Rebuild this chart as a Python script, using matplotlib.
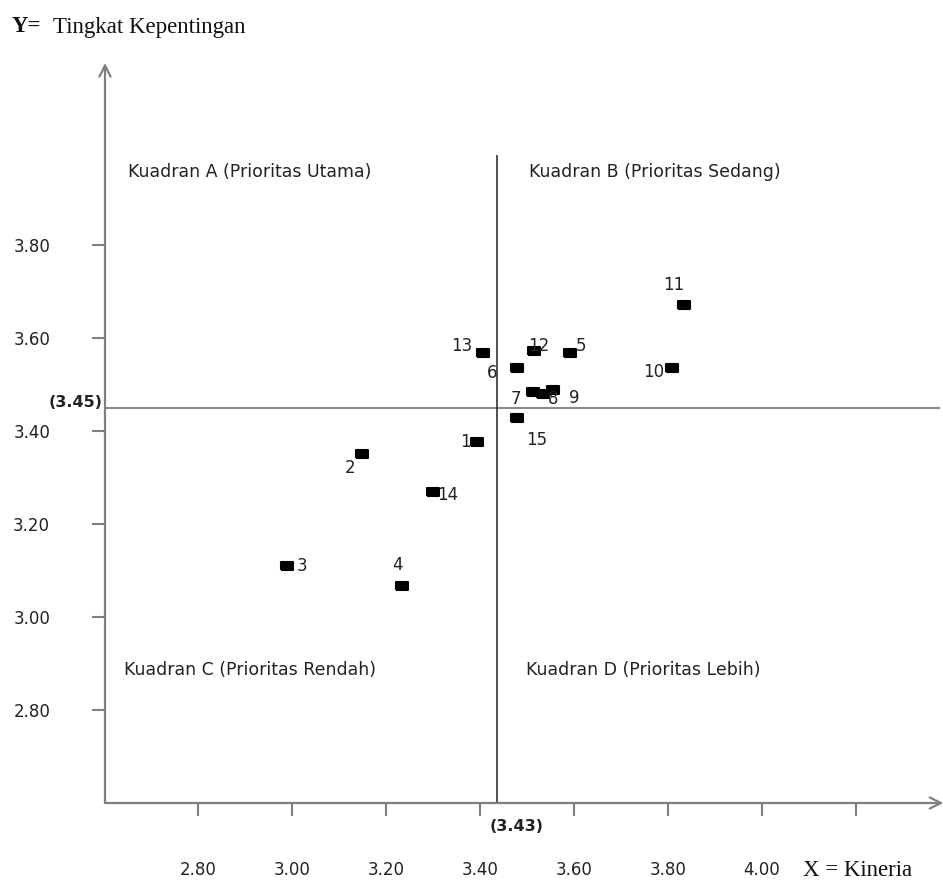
import matplotlib
matplotlib.use("Agg")
import matplotlib.pyplot as plt
import matplotlib.transforms as mtransforms

# ---- data ----
labels = ["1", "2", "3", "4", "5", "6", "7", "8", "9", "10", "11", "12", "13", "14", "15"]
kinerja = [3.394, 3.149, 2.989, 3.234, 3.591, 3.479, 3.513, 3.534, 3.555, 3.808, 3.834, 3.515, 3.406, 3.300, 3.479]
kepentingan = [3.376, 3.351, 3.110, 3.067, 3.568, 3.536, 3.484, 3.480, 3.488, 3.536, 3.671, 3.572, 3.568, 3.269, 3.428]
x_mean = 3.43
y_mean = 3.45
x_ticks = [2.80, 3.00, 3.20, 3.40, 3.60, 3.80, 4.00, 4.20]
x_ticklabels = ["2.80", "3.00", "3.20", "3.40", "3.60", "3.80", "4.00", ""]
y_ticks = [2.80, 3.00, 3.20, 3.40, 3.60, 3.80]
y_ticklabels = ["2.80", "3.00", "3.20", "3.40", "3.60", "3.80"]
quadrant_text = ["Kuadran A (Prioritas Utama)", "Kuadran B (Prioritas Sedang)",
                 "Kuadran C (Prioritas Rendah)", "Kuadran D (Prioritas Lebih)"]
# label offsets in pixels (dx, dy) relative to marker
label_offsets = [(-12, 0), (-12, -14), (15, 0), (-4, 21), (11, 7), (-25, -5), (-17, -7),
                 (10, -5), (21, -8), (-18, -4), (-10, 20), (5, 5), (-21, 7), (15, -3), (20, -22)]

W, H, DPI = 943, 880, 100
fig = plt.figure(figsize=(W / DPI, H / DPI), dpi=DPI)
ax = fig.add_axes([105 / W, 1 - 803 / H, (940 - 105) / W, (803 - 63) / H])
ax.set_xlim(2.602, 4.379)
ax.set_ylim(2.600, 4.191)

for s in ax.spines.values():
    s.set_visible(False)

axis_col = "#7f7f7f"
# axes with arrows
ax.annotate("", xy=(0, 1), xytext=(0, 0), xycoords="axes fraction",
            arrowprops=dict(arrowstyle="->,head_length=0.8,head_width=0.4", color=axis_col, lw=1.6,
                            shrinkA=0, shrinkB=0))
ax.annotate("", xy=(1.004, 0), xytext=(0, 0), xycoords="axes fraction",
            arrowprops=dict(arrowstyle="->,head_length=0.8,head_width=0.4", color=axis_col, lw=1.6,
                            shrinkA=0, shrinkB=0))

# ticks
ax.set_xticks(x_ticks)
ax.set_xticklabels(x_ticklabels)
ax.set_yticks(y_ticks)
ax.set_yticklabels(y_ticklabels)
ax.tick_params(axis="x", direction="out", length=9, width=1.5, color=axis_col, pad=33,
               labelsize=12, labelcolor="#222222")
ax.tick_params(axis="y", direction="out", length=9.5, width=1.5, color=axis_col, pad=30,
               labelsize=12, labelcolor="#222222")

# quadrant lines
ax.axhline(y_mean, color="#8a8a8a", lw=1.5, zorder=1)
ax.vlines(x_mean + 0.006, ymin=2.600, ymax=3.994, color="#222222", lw=1.1, zorder=1)

# points
marker = [(-1.75, -1), (1.75, -1), (1.75, 1), (-1.75, 1), (-1.75, -1)]
ax.plot(kinerja, kepentingan, linestyle="none", marker=marker, markersize=9,
        color="black", markeredgewidth=1.5, zorder=3)

for lab, xv, yv, (dx, dy) in zip(labels, kinerja, kepentingan, label_offsets):
    ax.annotate(lab, xy=(xv, yv), xytext=(dx, dy), textcoords="offset pixels",
                ha="center", va="center", fontsize=12, color="#222222", zorder=4)

# quadrant labels
qpos = [(2.651, 3.957), (3.504, 3.957), (2.643, 2.886), (3.498, 2.886)]
for t, (qx, qy) in zip(quadrant_text, qpos):
    ax.text(qx, qy, t, ha="left", va="center", fontsize=12.5, color="#222222")

# mean labels
tr_y = mtransforms.blended_transform_factory(ax.transAxes, ax.transData)
ax.annotate("(3.45)", xy=(0, y_mean), xycoords=tr_y, xytext=(-2, 5), textcoords="offset pixels",
            ha="right", va="center", fontsize=11.5, fontweight="bold", color="#222222",
            annotation_clip=False)
tr_x = mtransforms.blended_transform_factory(ax.transData, ax.transAxes)
ax.annotate("(3.43)", xy=(x_mean, 0), xycoords=tr_x, xytext=(23, -23), textcoords="offset pixels",
            ha="center", va="center", fontsize=11.5, fontweight="bold", color="#222222",
            annotation_clip=False)

# axis titles
fig.text(12 / W, 1 - 27 / H, "Y=", fontfamily="Liberation Serif", fontweight="bold",
         fontsize=16.5, ha="left", va="center", color="#111111")
fig.text(53 / W, 1 - 27 / H, "Tingkat Kepentingan", fontfamily="Liberation Serif",
         fontsize=16.5, ha="left", va="center", color="#111111")
fig.text(803 / W, 1 - 870 / H, "X = Kineria", fontfamily="Liberation Serif",
         fontsize=16.5, ha="left", va="center", color="#111111")

fig.savefig("out.png", dpi=DPI, facecolor="white")
